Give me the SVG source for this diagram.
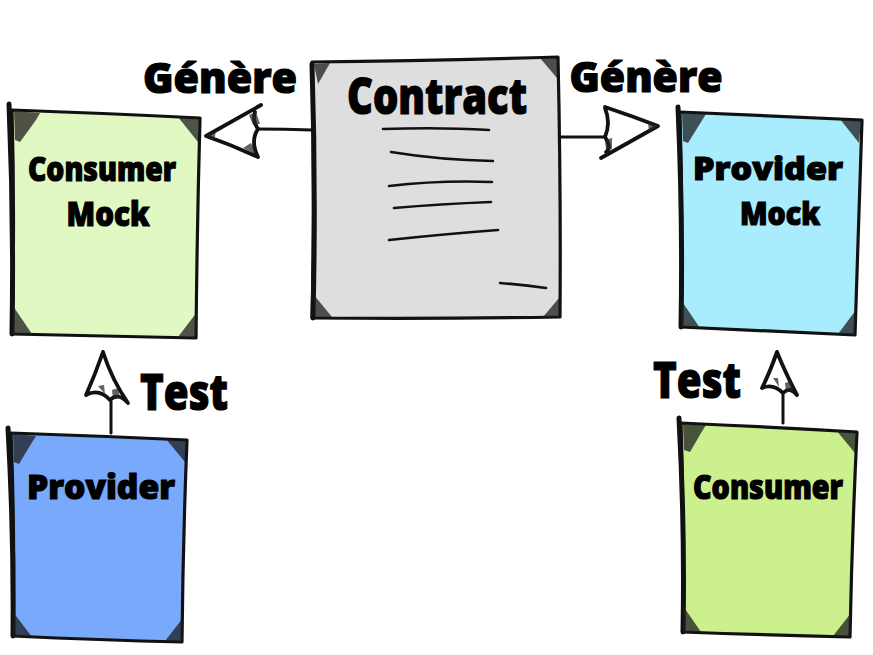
<svg xmlns="http://www.w3.org/2000/svg" width="873" height="655" viewBox="0 0 873 655">
<style>
.box{stroke:#111;stroke-width:3.2;stroke-linejoin:round}
.edge{fill:none;stroke:#111;stroke-width:5;stroke-linecap:round}
.corner{fill:#1c1c1c;opacity:.75}
.scrib{fill:none;stroke:#111;stroke-width:2.6;stroke-linecap:round}
.conn{fill:none;stroke:#111;stroke-width:3;stroke-linecap:round;stroke-linejoin:round}
.head{fill:none;stroke:#111;stroke-width:3.8;stroke-linecap:round;stroke-linejoin:round}
.shade{fill:#222;opacity:.7}
.t{font-family:"Open Sans","Liberation Sans",sans-serif;font-weight:800;fill:#000;stroke:#000;stroke-width:1.2;text-anchor:middle}
</style>
<rect width="873" height="655" fill="#fff"/>

<g id="contract">
<path class="box" fill="#dedede" d="M312,62 Q430,61 558,57 Q561,190 560,317 Q440,319 312,318 Q315,190 312,62 Z"/>
<path class="edge" d="M312,64 Q316,190 313,318"/>
<path class="corner" d="M314,64 L330,63 L318,84 Z"/>
<path class="corner" d="M540,58 L557,58 L557,78 Z"/>
<path class="corner" d="M314,295 L332,317 L314,317 Z"/>
<path class="corner" d="M559,298 L559,317 L543,317 Z"/>
<text class="t" x="437" y="114" font-size="50" textLength="180" lengthAdjust="spacingAndGlyphs">Contract</text>
<path class="scrib" d="M383,129 Q440,127 489,130"/>
<path class="scrib" d="M391,152 Q440,160 493,161"/>
<path class="scrib" d="M389,186 Q440,180 492,182"/>
<path class="scrib" d="M394,208 Q440,204 491,202"/>
<path class="scrib" d="M389,240 Q445,234 498,230"/>
<path class="scrib" d="M500,283 Q525,285 546,288"/>
</g>

<g id="consumer-mock">
<path class="box" fill="#e2f8c3" d="M12,110 Q100,113 200,118 Q197,230 196,338 Q100,336 12,334 Q15,220 12,110 Z"/>
<path class="edge" d="M9,104 Q14,220 12,334"/>
<path class="corner" d="M14,111 L40,113 L36,120 L20,142 L15,140 Z"/>
<path class="corner" d="M178,117 L199,119 L198,142 Z"/>
<path class="corner" d="M13,306 L32,334 L13,334 Z"/>
<path class="corner" d="M197,312 L196,338 L178,337 Z"/>
<text class="t" x="102" y="181" font-size="33" textLength="148" lengthAdjust="spacingAndGlyphs">Consumer</text>
<text class="t" x="108" y="226" font-size="33" textLength="83" lengthAdjust="spacingAndGlyphs">Mock</text>
</g>

<g id="provider-mock">
<path class="box" fill="#a8ecfd" d="M680,112 Q770,116 862,120 Q858,230 855,335 Q770,331 681,327 Q683,220 680,112 Z"/>
<path class="edge" d="M678,107 Q683,220 681,327"/>
<path class="corner" d="M682,113 L706,114 L701,122 L688,143 L683,141 Z"/>
<path class="corner" d="M840,119 L861,121 L859,143 Z"/>
<path class="corner" d="M681,300 L700,328 L681,327 Z"/>
<path class="corner" d="M856,310 L855,335 L838,334 Z"/>
<text class="t" x="768" y="180" font-size="32" textLength="150" lengthAdjust="spacingAndGlyphs">Provider</text>
<text class="t" x="780" y="225" font-size="32" textLength="80" lengthAdjust="spacingAndGlyphs">Mock</text>
</g>

<g id="provider">
<path class="box" fill="#79a9fb" d="M11,433 Q100,436 187,440 Q183,540 182,642 Q100,640 13,636 Q15,535 11,433 Z"/>
<path class="edge" d="M8,428 Q14,535 13,636"/>
<path class="corner" d="M13,434 L36,436 L31,444 L19,464 L14,462 Z"/>
<path class="corner" d="M166,439 L186,441 L185,462 Z"/>
<path class="corner" d="M13,612 L32,637 L13,637 Z"/>
<path class="corner" d="M183,618 L182,642 L165,641 Z"/>
<text class="t" x="101" y="499" font-size="34" textLength="148" lengthAdjust="spacingAndGlyphs">Provider</text>
</g>

<g id="consumer">
<path class="box" fill="#ccf08e" d="M681,423 Q770,427 857,432 Q852,535 850,637 Q765,635 683,632 Q684,530 681,423 Z"/>
<path class="edge" d="M679,418 Q685,530 683,632"/>
<path class="corner" d="M683,424 L706,425 L701,433 L690,452 L684,450 Z"/>
<path class="corner" d="M836,430 L856,433 L855,453 Z"/>
<path class="corner" d="M683,606 L701,632 L683,632 Z"/>
<path class="corner" d="M851,613 L850,637 L833,636 Z"/>
<text class="t" x="768" y="499" font-size="34" textLength="150" lengthAdjust="spacingAndGlyphs">Consumer</text>
</g>

<g id="connectors">
<g id="edge-contract-consumer-mock">
<path class="conn" d="M312,130 Q285,129 258,129"/>
<path class="head" d="M261,105 L206,136 Q232,145 258,157 Q250,141 258,129 Q252,120 255,112"/>
<path class="shade" d="M249,115 L256,112 L260,124 L253,125 Z"/>
<path class="shade" d="M243,148 L251,143 L257,155 Z"/>
<path class="shade" d="M206,136 L216,131 L214,141 Z"/>
<text class="t" x="220" y="93" font-size="42" textLength="154" lengthAdjust="spacingAndGlyphs">Génère</text>
</g>
<g id="edge-contract-provider-mock">
<path class="conn" d="M560,137 Q583,137 604,137"/>
<path class="head" d="M605,107 Q632,116 658,126 L601,158 M605,108 Q611,123 605,137 Q612,148 606,152"/>
<path class="shade" d="M648,122 L658,126 L649,132 Z"/>
<path class="shade" d="M605,140 L612,138 L612,149 L606,150 Z"/>
<text class="t" x="646" y="92" font-size="42" textLength="153" lengthAdjust="spacingAndGlyphs">Génère</text>
</g>
<g id="edge-provider-consumer-mock">
<path class="conn" d="M111,433 L111,401"/>
<path class="head" d="M103,352 Q95,375 86,395 Q99,388 110,400 Q118,392 128,403 Q112,380 103,352"/>
<path class="shade" d="M98,386 L104,385 L105,394 Z"/>
<path class="shade" d="M112,390 L118,388 L120,398 L113,399 Z"/>
<text class="t" x="184" y="410" font-size="50" textLength="88" lengthAdjust="spacingAndGlyphs">Test</text>
</g>
<g id="edge-consumer-provider-mock">
<path class="conn" d="M783,423 L783,393"/>
<path class="head" d="M777,352 Q770,372 762,388 Q773,383 783,393 Q790,386 797,395 Q785,372 777,352"/>
<path class="shade" d="M773,378 L778,378 L779,387 Z"/>
<path class="shade" d="M785,383 L791,381 L793,391 L786,392 Z"/>
<text class="t" x="697" y="398" font-size="50" textLength="88" lengthAdjust="spacingAndGlyphs">Test</text>
</g>
</g>
</svg>
